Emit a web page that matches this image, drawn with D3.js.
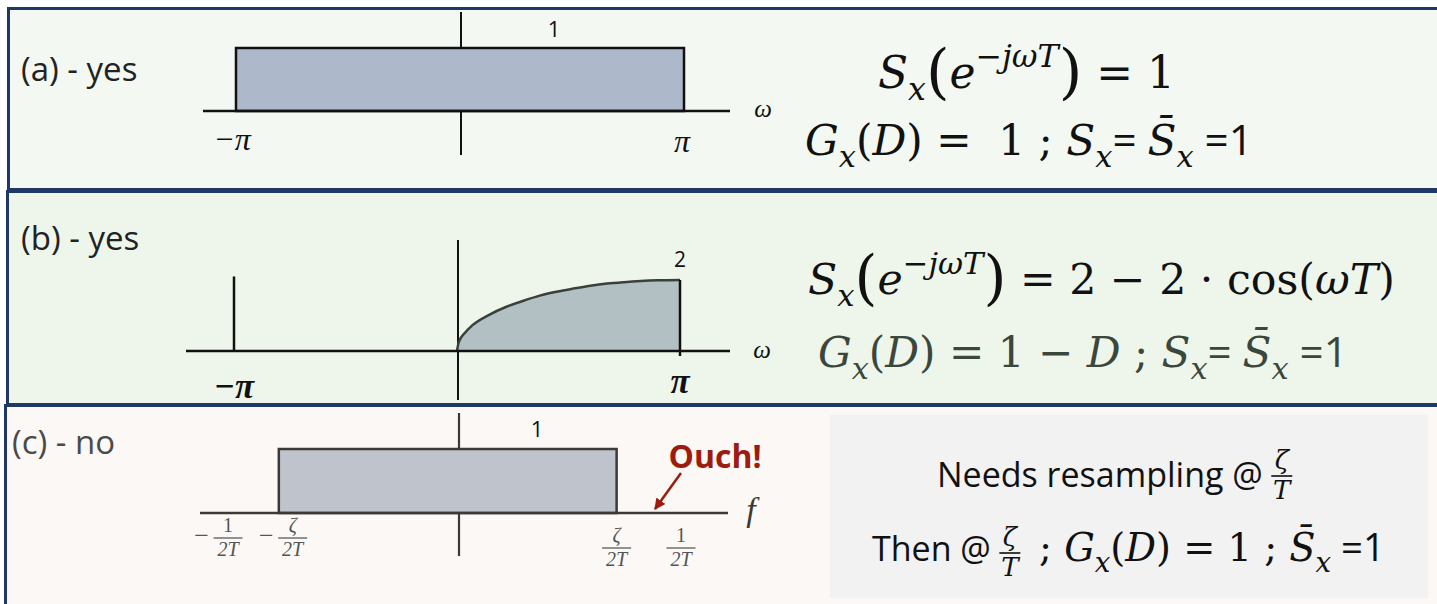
<!DOCTYPE html>
<html><head><meta charset="utf-8">
<script src="https://cdn.jsdelivr.net/npm/d3@7"></script>
<style>
html,body{margin:0;padding:0;background:#fff;}
svg{display:block;}
</style></head><body>
<svg id="fig" width="1437" height="604"></svg>
<script>
// ---------- data ----------
// (a) flat spectrum over one period; ω in units of π
const bandA = [-1, 1];
const levelA = [1];
const ticksA = [-1, 1];
const tickLabelsA = ["−π", "π"];

// (b) S_x on 0..π; ω in units of π
const omegaB = [0, 0.008, 0.038, 0.068, 0.144, 0.219, 0.295, 0.371, 0.446, 0.522, 0.598, 0.673, 0.749, 0.824, 0.900, 1.0];
const psdB   = [0, 0.25, 0.53, 0.72, 1.02, 1.24, 1.41, 1.56, 1.67, 1.76, 1.84, 1.90, 1.94, 1.97, 1.99, 2.0];
const edgeB = [-1, 2.1];          // ω and height of the line at −π
const ticksB = [-1, 1];
const tickLabelsB = ["−π", "π"];
const peakB = [2];

// (c) band in f; units of 1/(2T)
const bandC = [-0.78, 0.71];
const levelC = [1];
const ticksC = [-1, -0.72, 0.71, 1];
const tickNumC = ["1", "ζ", "ζ", "1"];
const tickSignC = ["−", "−", "", ""];

// ---------- styling ----------
const MATH = "'DejaVu Serif', serif";
const TIMES = "'Liberation Serif', serif";
const SANS = "'Open Sans', 'Noto Sans', sans-serif";
const BORDER = "#1f3864";

const svg = d3.select("#fig");

// panels
const panels = [
  {x: 8.5, y: 8.5, w: 1440, h: 181, fill: "#f4f8f2"},
  {x: 7.5, y: 191.5, w: 1440, h: 213, fill: "#eef6ec"},
  {x: 5.5, y: 405.5, w: 1440, h: 210, fill: "#fcf8f5"}
];
svg.selectAll("rect.panel").data(panels).join("rect")
  .attr("class", "panel")
  .attr("x", d => d.x).attr("y", d => d.y)
  .attr("width", d => d.w).attr("height", d => d.h)
  .attr("fill", d => d.fill)
  .attr("stroke", BORDER).attr("stroke-width", 3);

// ---------- helpers ----------
function mathLine(parent, x, y, size, parts, fill) {
  const t = parent.append("text").attr("x", x).attr("y", y)
    .attr("fill", fill || "#111").attr("font-size", size)
    .attr("xml:space", "preserve").style("white-space", "pre");
  let off = 0;
  parts.forEach(p => {
    const o = p.o || 0;
    const ts = t.append("tspan").text(p.t)
      .attr("dy", (o - off) * size)
      .attr("font-size", (p.s || 1) * size)
      .attr("font-family", p.f || MATH)
      .attr("font-style", p.i ? "italic" : "normal")
      .attr("font-weight", p.b ? "bold" : "normal");
    if (p.dx) ts.attr("dx", p.dx * size);
    off = o;
  });
  return t;
}
// build a line so that it spans x0..x1 on the given baseline
function fittedLine(parent, x0, x1, y, size0, parts, fill) {
  let t = mathLine(parent, x0, y, size0, parts, fill);
  const w = t.node().getBBox().width;
  t.remove();
  const size = size0 * (x1 - x0) / w;
  t = mathLine(parent, x0, y, size, parts, fill);
  const bb = t.node().getBBox();
  t.attr("x", x0 - (bb.x - x0));
  return t;
}
const SUB = {o: 0.28, s: 0.72, i: true};
const SUP = {o: -0.48, s: 0.72};
function sub(t) { return Object.assign({t}, SUB); }
function sup(t, i) { return Object.assign({t, i}, SUP); }
const BIGL = {t: "(", s: 1.38, o: 0.1};
const BIGR = {t: ")", s: 1.38, o: 0.1};

// stacked fraction: numerator above a bar, denominator below
function fraction(parent, cx, barY, num, den, size, fill, numItalic, family, barW) {
  const fam = family || MATH;
  const g = parent.append("g").attr("fill", fill);
  g.append("text").attr("x", cx).attr("y", barY - size * 0.28)
    .attr("text-anchor", "middle").attr("font-family", fam)
    .attr("font-style", numItalic ? "italic" : "normal")
    .attr("font-size", size).text(num);
  g.append("text").attr("x", cx).attr("y", barY + size * 0.9)
    .attr("text-anchor", "middle").attr("font-family", fam)
    .attr("font-style", "italic").attr("font-size", size).text(den);
  const w = barW || Math.max(size * 0.75, den.length * size * 0.72);
  g.append("line").attr("x1", cx - w / 2).attr("x2", cx + w / 2)
    .attr("y1", barY).attr("y2", barY)
    .attr("stroke", fill).attr("stroke-width", Math.max(1, size / 16));
  return g;
}

// ---------- (a) ----------
const gA = svg.append("g");
const xA = d3.scaleLinear().domain([-1, 1]).range([236, 684]);
const yA = d3.scaleLinear().domain([0, 1]).range([111, 48]);

gA.append("line").attr("x1", xA(0) + 1).attr("x2", xA(0) + 1)
  .attr("y1", 12).attr("y2", 155).attr("stroke", "#111").attr("stroke-width", 2);
gA.append("rect")
  .attr("x", xA(bandA[0])).attr("y", yA(levelA[0]))
  .attr("width", xA(bandA[1]) - xA(bandA[0]))
  .attr("height", yA(0) - yA(levelA[0]))
  .attr("fill", "#adb8cb").attr("stroke", "#111").attr("stroke-width", 2.5);
gA.append("line").attr("x1", 203).attr("x2", 730)
  .attr("y1", yA(0)).attr("y2", yA(0)).attr("stroke", "#111").attr("stroke-width", 2.5);

gA.selectAll("text.tick").data(ticksA).join("text").attr("class", "tick")
  .attr("x", (d, i) => xA(d) - (i === 0 ? 4 : 2))
  .attr("y", (d, i) => i === 0 ? 150 : 152)
  .attr("text-anchor", "middle").attr("font-family", TIMES).attr("font-style", "italic")
  .attr("font-size", 32).attr("fill", "#111")
  .text((d, i) => tickLabelsA[i]);
gA.append("text").attr("x", 554).attr("y", 37).attr("text-anchor", "middle")
  .attr("font-family", SANS).attr("font-size", 22).attr("fill", "#111").text(levelA[0]);
gA.append("text").attr("x", 763).attr("y", 117).attr("text-anchor", "middle")
  .attr("font-family", TIMES).attr("font-style", "italic").attr("font-size", 25)
  .attr("fill", "#111").text("ω");

gA.append("text").attr("x", 21).attr("y", 81).attr("font-family", SANS)
  .attr("font-size", 33).attr("fill", "#222").text("(a) - yes");

fittedLine(gA, 878, 1175, 88, 44, [
  {t: "S", i: true}, sub("x"), BIGL, {t: "e", i: true},
  sup("−"), sup("jωT", true), BIGR, {t: " = 1"}
]);
fittedLine(gA, 805, 1253, 155, 44, [
  {t: "G", i: true}, sub("x"), {t: "("}, {t: "D", i: true}, {t: ") =  1 ; "},
  {t: "S", i: true}, sub("x"), {t: "= ", f: SANS}, {t: "S\u0304", i: true}, sub("x"),
  {t: " =1", f: SANS}
]);

// ---------- (b) ----------
const gB = svg.append("g");
const xB = d3.scaleLinear().domain([-1, 1]).range([234, 680]);
const yB = d3.scaleLinear().domain([0, 2]).range([351, 280]);
const ptsB = omegaB.map((w, i) => ({w, v: psdB[i]}));

gB.append("line").attr("x1", xB(0) + 1).attr("x2", xB(0) + 1)
  .attr("y1", 240).attr("y2", 400).attr("stroke", "#111").attr("stroke-width", 2);
gB.append("path").datum(ptsB)
  .attr("d", d3.area().x(d => xB(d.w)).y0(yB(0)).y1(d => yB(d.v)).curve(d3.curveMonotoneX))
  .attr("fill", "#b2c0c3");
gB.append("path").datum(ptsB)
  .attr("d", d3.line().x(d => xB(d.w)).y(d => yB(d.v)).curve(d3.curveMonotoneX))
  .attr("fill", "none").attr("stroke", "#3a403a").attr("stroke-width", 2.5);
gB.append("line").attr("x1", xB(1)).attr("x2", xB(1))
  .attr("y1", yB(peakB[0])).attr("y2", yB(0) + 5)
  .attr("stroke", "#111").attr("stroke-width", 2.5);
gB.append("line").attr("x1", xB(edgeB[0])).attr("x2", xB(edgeB[0]))
  .attr("y1", yB(edgeB[1])).attr("y2", yB(0))
  .attr("stroke", "#111").attr("stroke-width", 2.5);
gB.append("line").attr("x1", 186).attr("x2", 730)
  .attr("y1", yB(0)).attr("y2", yB(0)).attr("stroke", "#111").attr("stroke-width", 2.5);

gB.selectAll("text.tick").data(ticksB).join("text").attr("class", "tick")
  .attr("x", d => xB(d))
  .attr("y", (d, i) => i === 0 ? 398 : 393)
  .attr("text-anchor", "middle").attr("font-family", TIMES).attr("font-style", "italic")
  .attr("font-weight", "bold")
  .attr("font-size", 35).attr("fill", "#111")
  .text((d, i) => tickLabelsB[i]);
gB.append("text").attr("x", xB(1)).attr("y", 267).attr("text-anchor", "middle")
  .attr("font-family", SANS).attr("font-size", 21).attr("fill", "#111").text(peakB[0]);
gB.append("text").attr("x", 762).attr("y", 358).attr("text-anchor", "middle")
  .attr("font-family", TIMES).attr("font-style", "italic").attr("font-size", 25)
  .attr("fill", "#111").text("ω");

gB.append("text").attr("x", 21).attr("y", 250).attr("font-family", SANS)
  .attr("font-size", 33).attr("fill", "#222").text("(b) - yes");

fittedLine(gB, 808, 1395, 294, 44, [
  {t: "S", i: true}, sub("x"), BIGL, {t: "e", i: true},
  sup("−"), sup("jωT", true), BIGR, {t: " = 2 − 2 · cos("}, {t: "ωT", i: true}, {t: ")"}
]);
fittedLine(gB, 818, 1348, 367, 44, [
  {t: "G", i: true}, sub("x"), {t: "("}, {t: "D", i: true}, {t: ") = 1 − "},
  {t: "D", i: true}, {t: " ; "},
  {t: "S", i: true}, sub("x"), {t: "= ", f: SANS}, {t: "S\u0304", i: true}, sub("x"),
  {t: " =1", f: SANS}
], "#3b473b");

// ---------- (c) ----------
const gC = svg.append("g");
const xC = d3.scaleLinear().domain([-1, 0, 1]).range([228, 459, 681]);
const yC = d3.scaleLinear().domain([0, 1]).range([513, 449]);
const INK = "#3d3935";

gC.append("line").attr("x1", xC(0)).attr("x2", xC(0))
  .attr("y1", 413).attr("y2", 556).attr("stroke", INK).attr("stroke-width", 2.2);
gC.append("rect")
  .attr("x", xC(bandC[0])).attr("y", yC(levelC[0]))
  .attr("width", xC(bandC[1]) - xC(bandC[0]))
  .attr("height", yC(0) - yC(levelC[0]))
  .attr("fill", "#bfc3cb").attr("stroke", INK).attr("stroke-width", 2.5);
gC.append("line").attr("x1", 200).attr("x2", 728)
  .attr("y1", yC(0)).attr("y2", yC(0)).attr("stroke", INK).attr("stroke-width", 2.5);

// fractional tick labels under the f axis
const tickBarC = [538, 538, 548, 548];
ticksC.forEach((t, i) => {
  const cx = xC(t);
  fraction(gC, cx, tickBarC[i], tickNumC[i], "2T", 20, "#555", tickNumC[i] === "ζ", TIMES, 29);
  if (tickSignC[i]) {
    gC.append("text").attr("x", cx - 19).attr("y", tickBarC[i] + 6)
      .attr("text-anchor", "end").attr("font-family", TIMES).attr("font-size", 26)
      .attr("fill", "#555").text(tickSignC[i]);
  }
});
gC.append("text").attr("x", 537).attr("y", 437).attr("text-anchor", "middle")
  .attr("font-family", SANS).attr("font-size", 22).attr("fill", "#111").text(levelC[0]);
gC.append("text").attr("x", 751).attr("y", 521).attr("text-anchor", "middle")
  .attr("font-family", TIMES).attr("font-style", "italic").attr("font-size", 34)
  .attr("fill", INK).text("f");

// annotation
const RED = "#9c1c0f";
svg.append("defs").append("marker").attr("id", "ah")
  .attr("viewBox", "0 0 10 10").attr("refX", 9).attr("refY", 5)
  .attr("markerWidth", 4.5).attr("markerHeight", 4.5).attr("orient", "auto")
  .append("path").attr("d", "M0,0L10,5L0,10z").attr("fill", RED);
gC.append("line").attr("x1", 681).attr("y1", 473).attr("x2", 655).attr("y2", 509)
  .attr("stroke", RED).attr("stroke-width", 2.5).attr("marker-end", "url(#ah)");
gC.append("text").attr("x", 715).attr("y", 468).attr("text-anchor", "middle")
  .attr("font-family", SANS).attr("font-weight", "bold").attr("font-size", 32)
  .attr("fill", RED).text("Ouch!");

gC.append("text").attr("x", 12).attr("y", 454).attr("font-family", SANS)
  .attr("font-size", 33).attr("fill", "#4a4a4a").text("(c) - no");

// note box
gC.append("rect").attr("x", 830).attr("y", 415).attr("width", 598).attr("height", 183)
  .attr("fill", "#f2f2f2");
const n1 = gC.append("text").attr("x", 937).attr("y", 487).attr("font-family", SANS)
  .attr("font-size", 34).attr("fill", "#111").text("Needs resampling @");
const e1 = 937 + n1.node().getComputedTextLength();
fraction(gC, e1 + 19, 476, "ζ", "T", 26, "#111", true, MATH, 21);

const n2 = gC.append("text").attr("x", 872).attr("y", 561).attr("font-family", SANS)
  .attr("font-size", 34).attr("fill", "#111").text("Then @");
const e2 = 872 + n2.node().getComputedTextLength();
fraction(gC, e2 + 19, 553, "ζ", "T", 26, "#111", true, MATH, 21);
fittedLine(gC, e2 + 36, 1385, 561, 34, [
  {t: " ; "}, {t: "G", i: true}, sub("x"), {t: "("}, {t: "D", i: true}, {t: ") = 1 ; "},
  {t: "S\u0304", i: true}, sub("x"), {t: " =1", f: SANS}
]);
</script>
</body></html>
